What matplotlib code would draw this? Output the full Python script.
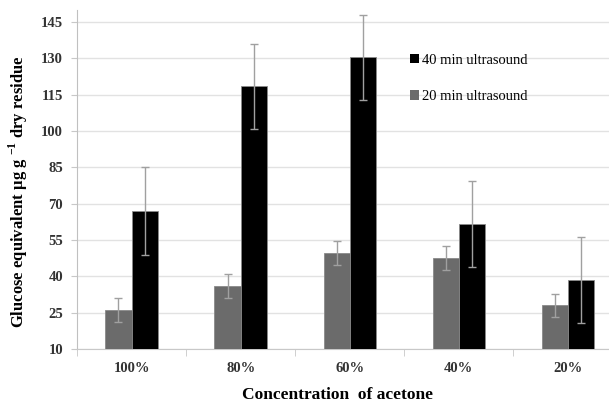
import numpy as np
import matplotlib
matplotlib.use("Agg")
import matplotlib.pyplot as plt
from matplotlib.patches import Patch

# Data
categories = ['100%', '80%', '60%', '40%', '20%']
min20 = [26, 36, 49.5, 47.5, 28]
min20_err = [5, 5, 5, 5, 4.8]
min40 = [67, 118.5, 130.5, 61.5, 38.5]
min40_err = [18, 17.5, 17.5, 17.7, 17.7]
yticks = list(range(10, 146, 15))

plt.rcParams['font.family'] = ['Liberation Serif', 'DejaVu Serif']
plt.rcParams['mathtext.fontset'] = 'custom'
plt.rcParams['mathtext.rm'] = 'Liberation Serif'
plt.rcParams['mathtext.bf'] = 'Liberation Serif:bold'

fig = plt.figure(figsize=(6.09, 4.03), dpi=100)
# plot area runs past the right edge of the picture, as in the reference crop
ax = fig.add_axes([77 / 609, 1 - 349 / 403, 545.5 / 609, 339 / 403])

x = np.arange(len(categories))
w = 0.24
grey = '#6b6b6b'
errc = '#a0a0a0'

ax.bar(x - w / 2, min20, w, color=grey, edgecolor='#8a8a8a', linewidth=0.6, zorder=3)
ax.bar(x + w / 2, min40, w, color='black', edgecolor='#8a8a8a', linewidth=0.6, zorder=3)
ax.errorbar(x - w / 2, min20, yerr=min20_err, fmt='none', ecolor=errc,
            elinewidth=1, capsize=3, capthick=1, zorder=4, clip_on=False)
ax.errorbar(x + w / 2, min40, yerr=min40_err, fmt='none', ecolor=errc,
            elinewidth=1, capsize=3, capthick=1, zorder=4, clip_on=False)

ax.set_xlim(-0.5, len(categories) - 0.5)
ax.set_ylim(10, 150)
ax.set_yticks(yticks)
ax.set_yticklabels([str(t) for t in yticks], fontsize=10.5, fontweight='bold', color='#333333')
ax.set_xticks(x)
ax.set_xticklabels(categories, fontsize=10.5, fontweight='bold', color='#333333')
ax.tick_params(axis='x', length=0, pad=9)
ax.set_xticks(np.arange(-0.5, len(categories), 1), minor=True)
ax.tick_params(axis='x', which='minor', length=5, color='#c8c8c8', direction='out')
ax.tick_params(axis='y', length=4, color='#c8c8c8', pad=6)

ax.grid(axis='y', color='#e2e2e2', linewidth=1, zorder=0)
ax.set_axisbelow(True)
for s in ['top', 'right']:
    ax.spines[s].set_visible(False)
ax.spines['left'].set_color('#c0c0c0')
ax.spines['bottom'].set_color('#c8c8c8')

handles = [Patch(facecolor='black', label='40 min ultrasound'),
           Patch(facecolor=grey, label='20 min ultrasound')]
fig.legend(handles=handles, loc='upper left', bbox_to_anchor=(404 / 609, 1 - 48 / 403),
           frameon=False, fontsize=10.5, handlelength=0.6, handleheight=0.6,
           handletextpad=0.2, labelspacing=1.6, borderaxespad=0)

fig.text(18 / 609, 1 - 192 / 403, r'Glucose equivalent µg g $^{\mathbf{-1}}$ dry residue',
         rotation=90, ha='center', va='center', fontsize=12, fontweight='bold')
fig.text(337 / 609, 1 - 395 / 403, 'Concentration  of acetone',
         ha='center', va='center', fontsize=12.5, fontweight='bold')

fig.savefig('out.png', dpi=100)
